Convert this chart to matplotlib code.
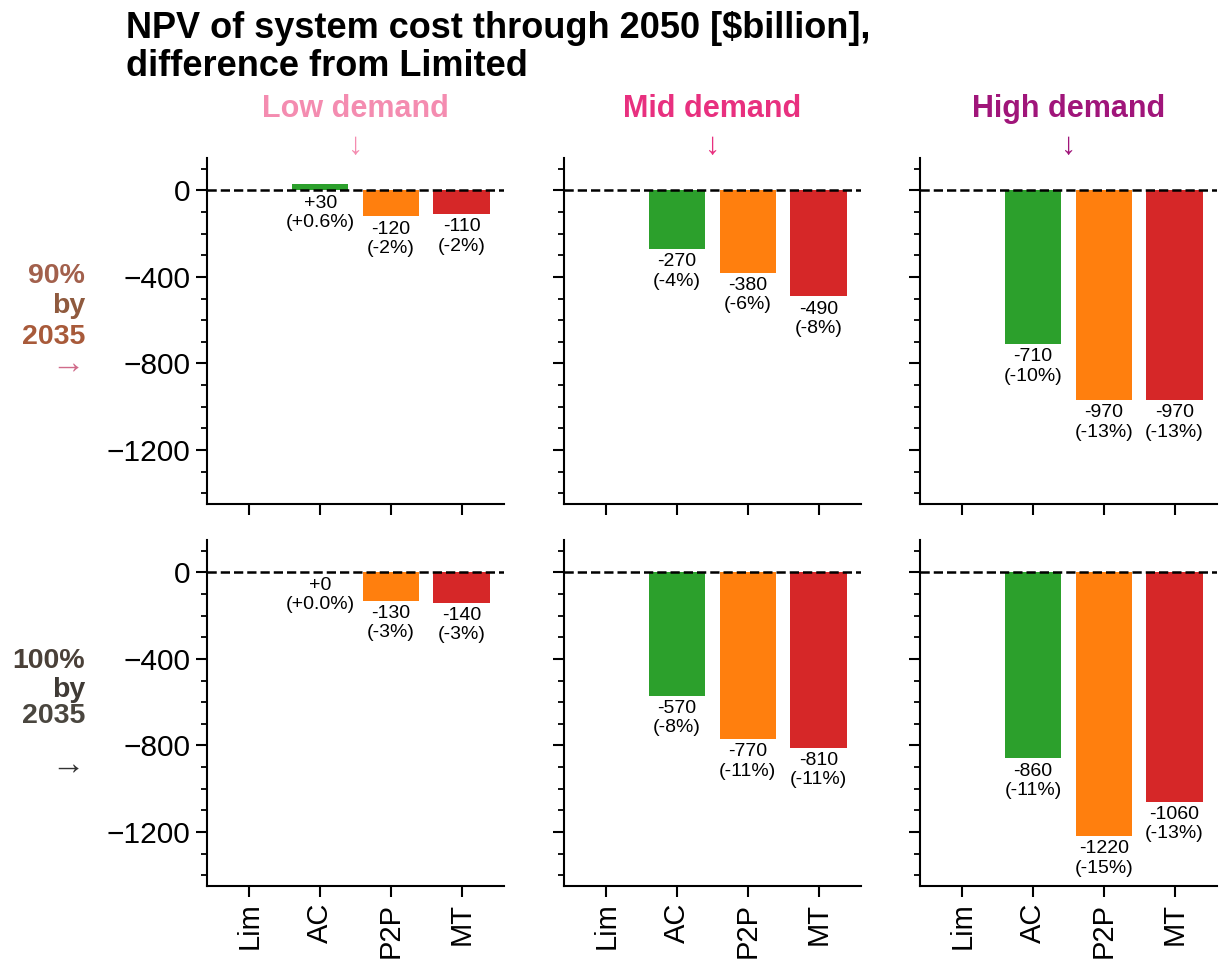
import matplotlib
matplotlib.use("Agg")
import matplotlib.pyplot as plt
from matplotlib.ticker import MultipleLocator, FixedLocator

plt.rcParams['font.family'] = ['Liberation Sans', 'DejaVu Sans']

# ---- data ----
categories = ["Lim", "AC", "P2P", "MT"]
demands = ["Low demand", "Mid demand", "High demand"]
demand_colors = ["#f48cb0", "#e8307f", "#a0157a"]
bar_colors = ["#2ca02c", "#2ca02c", "#ff7f0e", "#d62728"]

# row 0: 90% by 2035 ; row 1: 100% by 2035
values = {
    (0, 0): [0, 30, -120, -110],
    (0, 1): [0, -270, -380, -490],
    (0, 2): [0, -710, -970, -970],
    (1, 0): [0, 0, -130, -140],
    (1, 1): [0, -570, -770, -810],
    (1, 2): [0, -860, -1220, -1060],
}
pct_labels = {
    (0, 0): ["", "+0.6%", "-2%", "-2%"],
    (0, 1): ["", "-4%", "-6%", "-8%"],
    (0, 2): ["", "-10%", "-13%", "-13%"],
    (1, 0): ["", "+0.0%", "-3%", "-3%"],
    (1, 1): ["", "-8%", "-11%", "-11%"],
    (1, 2): ["", "-11%", "-15%", "-13%"],
}
row_label_lines = [["90%", "by", "2035", "→"], ["100%", "by", "2035", "→"]]
row_label_colors = [["#a2604c", "#8f5a3e", "#a85a3a", "#d06b8a"],
                    ["#4a4038", "#3f3a35", "#4a463f", "#333333"]]
yticks_major = [0, -400, -800, -1200]
title_lines = ["NPV of system cost through 2050 [$billion],", "difference from Limited"]

# ---- layout ----
W, H = 1225, 968
fig = plt.figure(figsize=(W / 100, H / 100), dpi=100)
col_x = [207, 564, 920]
col_w = 297
row_top = [158, 540]
row_h = 346

axes = {}
for r in range(2):
    for c in range(3):
        ax = fig.add_axes([col_x[c] / W, 1 - (row_top[r] + row_h) / H, col_w / W, row_h / H])
        axes[(r, c)] = ax
        vals = values[(r, c)]
        xs = list(range(len(categories)))
        for i in range(1, len(categories)):
            ax.bar(xs[i], vals[i], width=0.8, color=bar_colors[i], zorder=2)
            txt = f"{vals[i]:+d}\n({pct_labels[(r, c)][i]})"
            ax.annotate(txt, (xs[i], min(vals[i], 0)), xytext=(0, -3),
                        textcoords="offset points", ha="center", va="top",
                        fontsize=14, multialignment="center", linespacing=1.2,
                        zorder=4)
        ax.axhline(0, color="black", ls="--", lw=1.8, zorder=3)
        ax.set_xlim(-0.6, 3.6)
        ax.set_ylim(-1450, 150)
        ax.set_xticks(xs)
        if r == 1:
            ax.set_xticklabels(categories, rotation=90, fontsize=21)
        else:
            ax.set_xticklabels([])
        ax.yaxis.set_major_locator(FixedLocator(yticks_major))
        ax.yaxis.set_minor_locator(MultipleLocator(100))
        if c == 0:
            ax.tick_params(axis="y", labelsize=21.5)
        else:
            ax.set_yticklabels([])
        for s in ["top", "right"]:
            ax.spines[s].set_visible(False)
        for s in ["left", "bottom"]:
            ax.spines[s].set_linewidth(1.5)
        ax.tick_params(which="major", length=8, width=1.5, pad=4)
        ax.tick_params(which="minor", length=4.5, width=1.3)

# column titles
for c in range(3):
    cx = (col_x[c] + col_w / 2) / W
    fig.text(cx, 1 - 109 / H, demands[c], color=demand_colors[c], fontsize=22,
             fontweight="bold", ha="center", va="center")
    fig.text(cx, 1 - 146 / H, "↓", color=demand_colors[c], fontsize=22,
             ha="center", va="center")

# row labels
row_line_y = [[276, 306, 337, 364], [661, 690, 716, 765]]
for r in range(2):
    for k, (t, col) in enumerate(zip(row_label_lines[r], row_label_colors[r])):
        fw = "normal" if t == "→" else "bold"
        fs = 24 if t == "→" else 20.5
        fig.text(85 / W, 1 - row_line_y[r][k] / H, t, color=col, fontsize=fs,
                 fontweight=fw, ha="right", va="center")

# title
for k, line in enumerate(title_lines):
    fig.text(126 / W, 1 - (38 + 38 * k) / H, line,
             fontsize=26, fontweight="bold", ha="left", va="baseline")

fig.savefig("out.png", dpi=100)
